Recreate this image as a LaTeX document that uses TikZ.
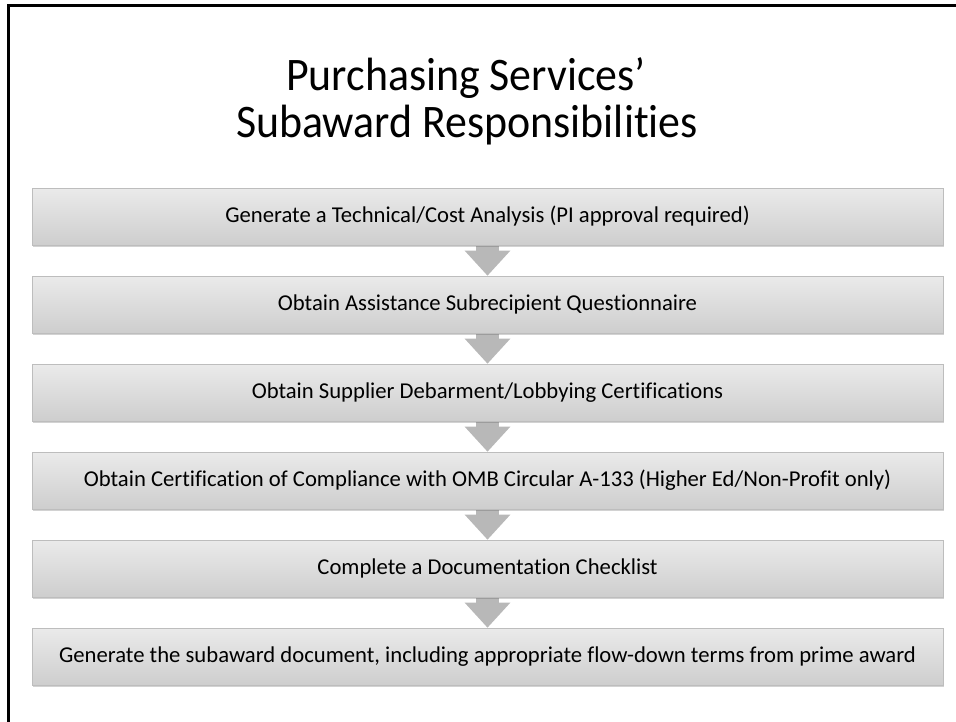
\documentclass[tikz,border=0pt]{standalone}
\usepackage{fontspec}
\setmainfont[Ligatures={TeX,NoCommon}]{Carlito}
\newfontfamily\titlefont[Ligatures={TeX,NoCommon}, FakeStretch=0.94]{Carlito}
\usetikzlibrary{arrows.meta,shadows,backgrounds}
\definecolor{boxtop}{HTML}{EAEAEA}
\definecolor{boxbot}{HTML}{CECECE}
\definecolor{boxline}{HTML}{BDBDBD}
\definecolor{arrowgray}{HTML}{B8B8B8}
\tikzset{
  stepbox/.style={rectangle, draw=boxline, top color=boxtop, bottom color=boxbot,
                  minimum width=683.25pt, minimum height=42.75pt, inner sep=0pt,
                  font=\fontsize{17}{20}\selectfont,
                  drop shadow={shadow xshift=0.6pt, shadow yshift=-1.2pt,
                               opacity=0.25, fill=black!70}},
  flowarr/.style={draw=arrowgray, line width=17.25pt,
                  -{Triangle[length=18.75pt, width=33pt]}},   % block arrow
  heading/.style={font=\titlefont\fontsize{35}{35}\selectfont, anchor=base, inner sep=0pt},
  frame/.style={line width=1.9pt, line cap=rect},
}
\begin{document}
\begin{tikzpicture}[x=0.75pt, y=-0.75pt]
  \useasboundingbox (0,0) rectangle (956,721);
  % ---------------- frame and heading ----------------
  \draw[frame] (8.5,721) -- (8.5,5.5) -- (956,5.5);
  \node[heading] (title1) at (466,90)  {Purchasing Services’};
  \node[heading] (title2) at (467,137) {Subaward Responsibilities};
  % ---------------- steps ----------------
  \node[stepbox] (s1) at (487.5,216.5) {Generate a Technical/Cost Analysis (PI approval required)};
  \node[stepbox] (s2) at (487.5,304.5) {Obtain Assistance Subrecipient Questionnaire};
  \node[stepbox] (s3) at (487.5,392.5) {Obtain Supplier Debarment/Lobbying Certifications};
  \node[stepbox] (s4) at (487.5,480.5) {Obtain Certification of Compliance with OMB Circular A-133 (Higher Ed/Non-Profit only)};
  \node[stepbox] (s5) at (487.5,568.5) {Complete a Documentation Checklist};
  \node[stepbox] (s6) at (487.5,656.5) {Generate the subaward document, including appropriate flow-down terms from prime award};
  \begin{scope}[on background layer]
    \foreach \u/\v in {s1/s2,s2/s3,s3/s4,s4/s5,s5/s6}
      \draw[flowarr] (\u.south) -- (\v.north);
  \end{scope}
\end{tikzpicture}
\end{document}
